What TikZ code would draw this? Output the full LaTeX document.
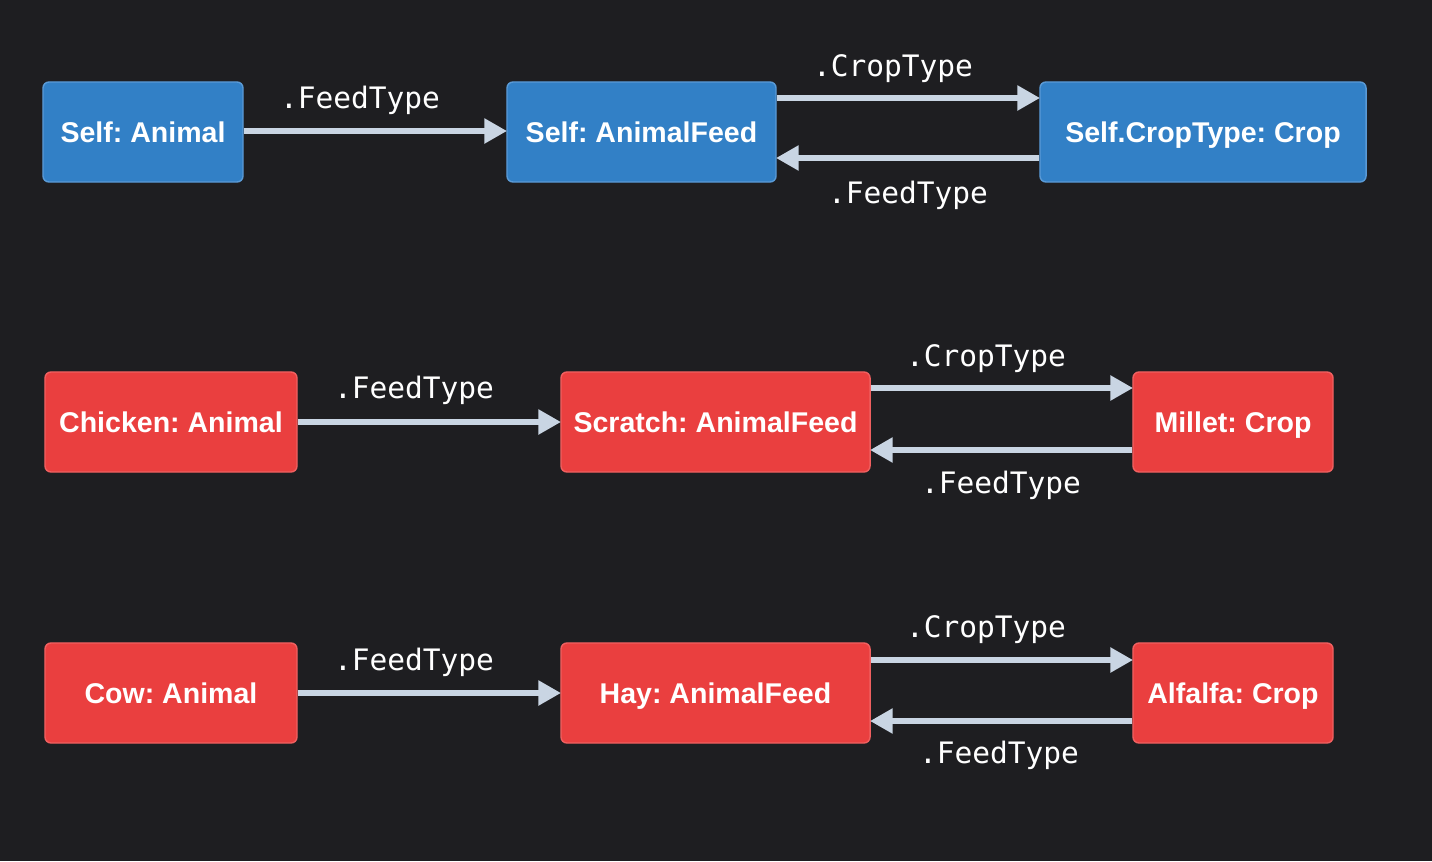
\documentclass[tikz,border=0pt]{standalone}
\usepackage{fontspec}
\setmainfont{Liberation Sans}
\newfontfamily\labelmono{DejaVu Sans Mono}
\usetikzlibrary{arrows.meta}
\definecolor{bgc}{HTML}{1E1E21}
\definecolor{bluefill}{HTML}{3280C6}
\definecolor{blueedge}{HTML}{5A9AD6}
\definecolor{redfill}{HTML}{EA3F3F}
\definecolor{rededge}{HTML}{F06060}
\definecolor{arrc}{HTML}{C9D5E3}
\begin{document}
\frenchspacing
\begin{tikzpicture}[x=0.025cm,y=-0.025cm,
  box/.style={rounded corners=4.3pt, line width=1pt, minimum height=2.5cm, inner sep=0pt,
    text height=17pt, text depth=2.5pt,
    text=white, font=\fontsize{20.3}{22}\selectfont\bfseries},
  bluebox/.style={box, fill=bluefill, draw=blueedge},
  redbox/.style={box, fill=redfill, draw=rededge},
  arr/.style={draw=arrc, line width=3.8pt, -{Triangle[length=16pt,width=17pt]}, shorten >=-0.5pt},
  lbl/.style={text=white, font=\labelmono\fontsize{21}{24}\selectfont, inner sep=0pt,
    text height=17pt, text depth=1.6pt}
]
\fill[bgc] (0,0) rectangle (1432,861);
\useasboundingbox (0,0) rectangle (1432,861);

% Row 1
\node[bluebox, minimum width=5cm] (a1) at (143,132) {Self: Animal};
\node[bluebox, minimum width=6.725cm] (f1) at (641.5,132) {Self: AnimalFeed};
\node[bluebox, minimum width=8.15cm] (c1) at (1203,132) {Self.CropType: Crop};
\draw[arr] (a1.east |- 0,131) -- (f1.west |- 0,131);
\draw[arr] (f1.east |- 0,98) -- (c1.west |- 0,98);
\draw[arr] (c1.west |- 0,158) -- (f1.east |- 0,158);
\node[lbl] (l1a) at (360,98) {.FeedType};
\node[lbl] (l1b) at (893,66) {.CropType};
\node[lbl] (l1c) at (908,193) {.FeedType};

% Row 2
\node[redbox, minimum width=6.3cm] (a2) at (171,422) {Chicken: Animal};
\node[redbox, minimum width=7.725cm] (f2) at (715.5,422) {Scratch: AnimalFeed};
\node[redbox, minimum width=5cm] (c2) at (1233,422) {Millet: Crop};
\draw[arr] (a2.east |- 0,422) -- (f2.west |- 0,422);
\draw[arr] (f2.east |- 0,388) -- (c2.west |- 0,388);
\draw[arr] (c2.west |- 0,450) -- (f2.east |- 0,450);
\node[lbl] (l2a) at (414,388) {.FeedType};
\node[lbl] (l2b) at (986,356) {.CropType};
\node[lbl] (l2c) at (1001,483) {.FeedType};

% Row 3
\node[redbox, minimum width=6.3cm] (a3) at (171,693) {Cow: Animal};
\node[redbox, minimum width=7.725cm] (f3) at (715.5,693) {Hay: AnimalFeed};
\node[redbox, minimum width=5cm] (c3) at (1233,693) {Alfalfa: Crop};
\draw[arr] (a3.east |- 0,693) -- (f3.west |- 0,693);
\draw[arr] (f3.east |- 0,660) -- (c3.west |- 0,660);
\draw[arr] (c3.west |- 0,721) -- (f3.east |- 0,721);
\node[lbl] (l3a) at (414,660) {.FeedType};
\node[lbl] (l3b) at (986,627) {.CropType};
\node[lbl] (l3c) at (999,753) {.FeedType};
\end{tikzpicture}
\end{document}
